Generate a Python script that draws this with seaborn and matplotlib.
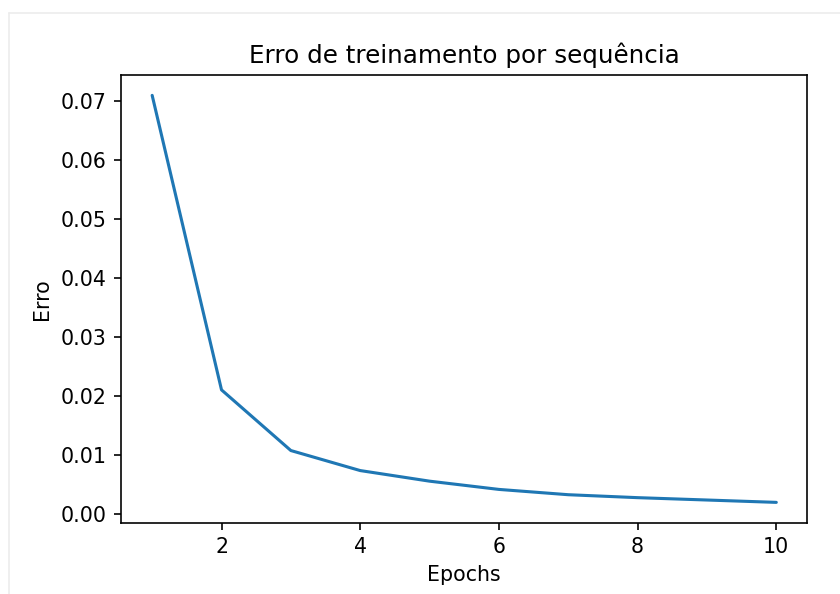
import matplotlib
matplotlib.use("Agg")
import matplotlib.pyplot as plt
from matplotlib.lines import Line2D
import seaborn as sns
import pandas as pd

# Training error per epoch
epochs = [1, 2, 3, 4, 5, 6, 7, 8, 9, 10]
erro = [0.0710, 0.0210, 0.0107, 0.0073, 0.0055, 0.0041, 0.0032, 0.0027, 0.0023, 0.0019]

title = "Erro de treinamento por sequência"
xlabel = "Epochs"
ylabel = "Erro"

sns.set_style("white", {"axes.edgecolor": "black", "xtick.bottom": True, "ytick.left": True,
                        "xtick.color": "black", "ytick.color": "black",
                        "text.color": "black", "axes.labelcolor": "black"})
plt.rcParams["font.family"] = ["DejaVu Sans"]

dpi = 148
fig = plt.figure(figsize=(840 / dpi, 594 / dpi), dpi=dpi)
ax = fig.add_axes([0.1440, 0.1200, 0.8173, 0.7537])

df = pd.DataFrame({"Epochs": epochs, "Erro": erro})
sns.lineplot(data=df, x="Epochs", y="Erro", ax=ax, color="#1f77b4", linewidth=1.5)

ax.set_title(title, fontsize=12)
ax.set_xlabel(xlabel, fontsize=10)
ax.set_ylabel(ylabel, fontsize=10)
ax.tick_params(labelsize=10, length=3.5, width=0.8)
ax.set_xticks([2, 4, 6, 8, 10])
ax.set_yticks([0.0, 0.01, 0.02, 0.03, 0.04, 0.05, 0.06, 0.07])
ax.yaxis.set_major_formatter(matplotlib.ticker.FormatStrFormatter("%.2f"))
for s in ax.spines.values():
    s.set_linewidth(0.8)
    s.set_color("black")

# light cell border around the output
fig.add_artist(Line2D([8.5 / 840, 8.5 / 840], [0, 1 - 12.5 / 594], transform=fig.transFigure,
                      color="#ececec", linewidth=0.8))
fig.add_artist(Line2D([8.5 / 840, 1], [1 - 12.5 / 594, 1 - 12.5 / 594], transform=fig.transFigure,
                      color="#ececec", linewidth=0.8))

fig.savefig("out.png", dpi=dpi, facecolor="white")
